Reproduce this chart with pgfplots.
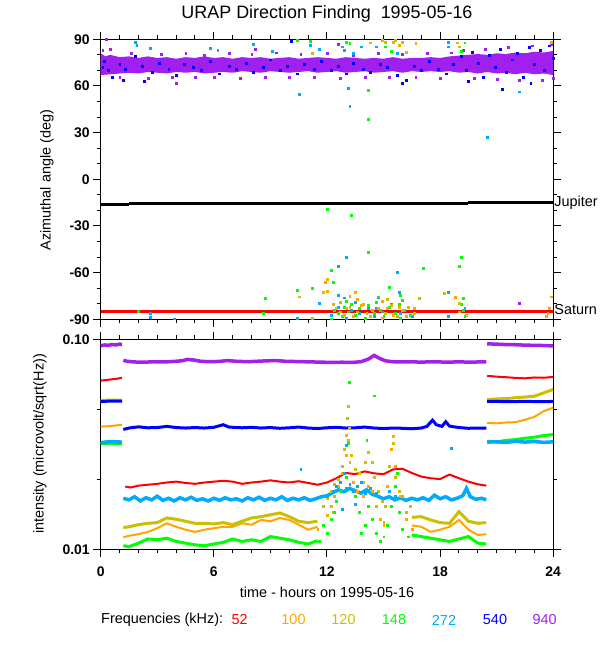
\documentclass[border=0pt]{standalone}
\usepackage{pgfplots}
\pgfplotsset{compat=1.18}
\usepackage{fontspec}
\setmainfont{Liberation Sans}
\definecolor{c52}{RGB}{255,0,0}
\definecolor{c100}{RGB}{255,165,0}
\definecolor{c120}{RGB}{205,190,0}
\definecolor{c148}{RGB}{0,255,0}
\definecolor{c272}{RGB}{0,170,255}
\definecolor{c540}{RGB}{0,0,255}
\definecolor{c940}{RGB}{160,32,240}
\newcommand{\lbl}{\fontsize{14.5}{17}\selectfont}
\pgfplotsset{
  urap/.style={
    scale only axis, width=452.5bp, anchor=south west,
    xmin=0, xmax=24, xtick={0,6,12,18,24}, minor xtick={1,2,3,4,5,7,8,9,10,11,13,14,15,16,17,19,20,21,22,23},
    tick align=outside, major tick length=7.5bp, minor tick length=4bp,
    axis line style={line width=1bp}, every tick/.style={black, line width=1bp},
    ticklabel style={font=\bfseries\fontsize{14}{16}\selectfont},
    clip=true,
  },
  pts/.style={only marks, mark=square*, mark size=0.95bp, mark options={draw=#1, fill=#1, line width=0.1bp}},
}
\begin{document}
\begin{tikzpicture}
\useasboundingbox (0,0) rectangle (600bp,650bp);
% ---------------- top panel ----------------
\begin{axis}[urap, at={(100.7bp,330.7bp)}, height=280bp,
  ymin=-90, ymax=90, ytick={-90,-60,-30,0,30,60,90},
  yticklabels={-90,-60,-30,0,30,60,90},
  minor ytick={-80,-70,-50,-40,-20,-10,10,20,40,50,70,80},
  xticklabels={}]
% Jupiter and Saturn
\addplot[black, line width=3bp] coordinates {(0,-16) (1.5,-16)};
\addplot[black, line width=3bp] coordinates {(1.5,-15.4) (19.5,-15.4)};
\addplot[black, line width=3bp] coordinates {(19.5,-14.8) (24,-14.8)};
\addplot[c52, line width=3.5bp] coordinates {(0,-85) (24,-85)};
% 940 kHz dense band
\addplot[draw=none, fill=c940] coordinates {
(0,81) (0.25,79) (0.5,80) (1,78.5) (1.5,79) (2,78) (2.5,79) (3,78) (3.5,78.5) (4,77.5) (4.5,78.5) (5,78) (5.5,79) (6,78) (6.5,78.5) (7,77.5) (7.5,78.5) (8,78) (8.5,78.5) (9,77.5) (9.5,78) (10,78.5) (10.5,77.5) (11,78) (11.5,78.5) (12,78) (12.5,77.5) (13,78.5) (13.5,78) (14,77.5) (14.5,78) (15,77.5) (15.5,78.5) (16,77.5) (16.5,78) (17,78) (17.5,78.5) (18,78) (18.5,79) (19,79.5) (19.5,80) (20,80.5) (20.5,80) (21,81) (21.5,80.5) (22,81.5) (22.5,81) (23,82) (23.5,81.5) (24,82.5)
(24,67) (23.5,68) (23,67.5) (22.5,68.5) (22,67.5) (21.5,68.5) (21,68) (20.5,69) (20,68) (19.5,69) (19,68.5) (18.5,69.5) (18,69) (17.5,69.5) (17,69) (16.5,69.5) (16,68.5) (15.5,69.5) (15,69) (14.5,68.5) (14,69.5) (13.5,69) (13,68.5) (12.5,69.5) (12,69) (11.5,68.5) (11,69.5) (10.5,69) (10,68.5) (9.5,69) (9,69.5) (8.5,68.5) (8,69) (7.5,69.5) (7,68.5) (6.5,69) (6,68.5) (5.5,68) (5,69) (4.5,68.5) (4,69) (3.5,68) (3,68.5) (2.5,69) (2,68) (1.5,68.5) (1,68) (0.5,67.5) (0,67)} -- cycle;
% 540 kHz points
\addplot[pts=c540] coordinates {
(0.1,72) (0.2,76) (0.4,70) (0.6,66) (1.0,74) (1.3,71) (1.8,79) (2.2,73) (2.7,69) (3.1,75) (3.6,71) (4.0,67) (4.4,74) (4.9,72) (5.3,70) (5.8,76) (6.3,68) (6.8,73) (7.2,71) (7.7,75) (8.1,69) (8.6,72) (9.0,77) (9.5,70) (9.9,73) (10.4,68) (10.8,74) (11.3,71) (11.7,76) (12.2,70) (12.6,73) (13.0,68) (13.4,75) (13.9,71) (14.3,69) (14.8,74) (15.2,72) (15.7,67) (16.0,62) (16.2,64) (16.6,73) (17.0,70) (17.4,76) (17.9,71) (18.3,68) (18.7,74) (19.1,79) (19.4,70) (19.7,82) (20.0,75) (20.3,66) (20.6,80) (20.9,72) (21.2,84) (21.3,58) (21.5,69) (21.8,77) (22.1,81) (22.4,66) (22.7,85) (22.8,62) (23.0,74) (23.3,83) (23.5,70) (23.8,86) (24.0,78) (19.5,63) (1.2,64) (2.3,63) (10.1,89)};
% 940 kHz outliers
\addplot[pts=c940] coordinates {
(0.1,83) (0.5,84) (1.0,66) (1.6,81) (2.5,65) (3.2,80.5) (3.8,66) (4.5,81) (5.0,65.5) (5.5,80) (6.0,66) (6.8,81) (7.4,65) (8.0,80.5) (8.7,66) (9.3,81.5) (10.0,65.5) (10.6,80.5) (11.3,66) (12.0,81) (12.7,65) (13.4,80) (14.0,66) (14.7,81) (15.3,65.5) (16.0,80.5) (16.7,66) (17.3,81) (18.0,65) (18.6,81.5) (19.2,83) (19.8,65) (20.4,84) (21.0,64.5) (21.6,85) (22.2,64) (22.9,86) (23.4,64) (23.9,87) (0.3,90) (4.0,62) (8.2,84) (12.6,87) (24,65) (22.2,-79.3)};
% 272 kHz
\addplot[pts=c272] coordinates {
(1.8,88.5) (1.9,86.4) (2.6,84.2) (5.8,84.6) (6.2,83) (8.1,86.8) (9.1,82.7) (10.5,54.6) (11.1,86.4) (11.6,83.6) (12.8,85.3) (12.9,83) (13.1,58.5) (13.2,47) (13.4,81) (13.8,85.3) (14.6,85.3) (15.7,81) (18.4,88.5) (18.4,85.3) (20.5,27.4) (22.2,56.4)
(13.0,-49.7) (12.6,-55.7) (15.7,-59.8) (15.8,-72.2) (18.4,-72.2) (2.6,-86.1) (2.6,-88.3) (3.9,-89.5) (10.4,-89.4) (11.6,-79.7) (12.6,-74.4) (14.6,-82.9) (18.4,-87.9) (19.3,-82.9)
(12.2,-87) (12.6,-82) (13.0,-89) (13.3,-84) (13.7,-86) (14.2,-83) (14.5,-88) (14.9,-85) (15.4,-80) (15.9,-86) (16.5,-88) (12.9,-76) (13.5,-79) (14.7,-76)};
% 148 kHz
\addplot[pts=c148] coordinates {
(10.4,89.6) (11.1,89) (13.0,88.5) (13.2,87.4) (14.2,57.4) (14.2,38.6) (15.1,85.3) (15.4,82.7) (19.1,82.7) (19.3,87.9)
(12.0,-19.3) (13.3,-22.9) (14.2,-46.5) (19.1,-49.7) (19.0,-55.7) (17.1,-57.2) (12.2,-58.3) (12.3,-65.8) (11.2,-70) (10.4,-71.1) (8.7,-76.5) (15.3,-69) (15.9,-74.4) (19.2,-76.1) (14.7,-75.4) (2,-84.6) (8.6,-85.7)
(12.4,-84) (12.6,-86) (12.8,-88) (12.9,-82) (13.1,-85) (13.3,-80) (13.5,-87) (13.7,-83) (14.0,-89) (14.2,-81) (14.5,-86) (14.8,-84) (15.0,-88) (15.3,-82) (15.6,-86) (15.9,-89) (16.1,-84) (16.4,-87) (13.0,-78) (14.6,-79) (15.8,-80) (19.2,-84) (19.3,-88) (12.2,-89.5) (16.0,-77.5) (19.1,-80)};
% 120 kHz
\addplot[pts=c120] coordinates {
(15.8,86.4) (16.2,82) (18.9,87.9) (19.0,85.3) (11.2,81) (15.1,88.5) (15.6,89.3)
(10.5,-75.4) (16.9,-76.5) (18.2,-73.3) (19.0,-79.7) (11.2,-89.4) (11.8,-72.2)
(12.5,-83) (12.9,-87) (13.2,-82) (13.6,-85) (13.9,-80) (14.3,-88) (14.7,-83) (15.1,-86) (15.4,-81) (15.7,-88) (16.0,-84) (16.3,-82) (16.6,-86) (12.7,-79) (15.2,-77) (19.0,-85) (19.4,-87)};
% 100 kHz
\addplot[pts=c100] coordinates {
(14.3,87.9) (14.9,89.6) (15.5,88.5) (16,88.5) (16.7,87.4) (23.9,88.5)
(12,-64.1) (11.9,-66.2) (13.5,-72.2) (18.8,-75.9) (23.9,-75.4) (23.8,-82.9) (23.7,-86.1) (23.6,-87.9)
(12.3,-80) (12.7,-85) (13.0,-83) (13.4,-88) (13.8,-81) (14.1,-86) (14.4,-84) (14.9,-89) (15.2,-83) (15.5,-87) (15.8,-82) (16.2,-88) (16.6,-83) (13.6,-77) (14.9,-78) (12.0,-72) (13.2,-75)};
\end{axis}
\node[anchor=west, font=\lbl, inner sep=1bp] at (553.2bp,447.5bp) {Jupiter};
\node[anchor=west, font=\lbl, inner sep=1bp] at (553.2bp,340bp) {Saturn};
% ---------------- bottom panel ----------------
\begin{axis}[urap, at={(100.7bp,100.7bp)}, height=210bp,
  ymode=log, ymin=0.01, ymax=0.1, ytick={0.01,0.1}, yticklabels={0.01,0.10},
  minor ytick={0.02154,0.04642}, xticklabels={0,6,12,18,24},
  xticklabel style={yshift=-6bp}]
% 52 kHz
\addplot[c52, line width=2bp] coordinates {(0,0.0636) (0.3,0.0640) (0.6,0.0645) (0.9,0.0650) (1.13,0.0656)};
\addplot[c52, line width=2bp] coordinates {(1.3,0.0199) (1.6,0.0197) (2,0.0201) (2.5,0.0203) (3,0.0205) (3.5,0.0208) (4,0.0210) (4.5,0.0207) (5,0.0205) (5.5,0.0208) (6,0.0210) (6.5,0.0212) (7,0.0210) (7.5,0.0205) (8,0.0208) (8.5,0.0210) (9,0.0213) (9.5,0.0210) (10,0.0208) (10.5,0.0211) (11,0.0207) (11.5,0.0203) (12,0.0208) (12.5,0.0218) (13,0.0231) (13.5,0.0228) (14,0.0235) (14.5,0.0230) (15,0.0228) (15.5,0.0240) (16,0.0242) (16.5,0.0231) (17,0.0222) (17.5,0.0218) (18,0.0216) (18.5,0.0227) (19,0.0218) (19.5,0.0210) (20,0.0204) (20.45,0.0201)};
\addplot[c52, line width=2bp] coordinates {(20.5,0.0670) (21,0.0664) (21.5,0.0660) (22,0.0655) (22.5,0.0652) (23,0.0658) (23.5,0.0656) (24,0.0662)};
% 100 kHz
\addplot[c100, line width=2bp] coordinates {(0,0.0384) (0.5,0.0386) (1.13,0.0392)};
\addplot[c100, line width=2bp] coordinates {(1.2,0.0114) (1.5,0.0116) (2,0.0118) (2.5,0.0121) (3,0.0126) (3.5,0.0133) (4,0.0128) (4.5,0.0124) (5,0.0121) (5.5,0.0124) (6,0.0126) (6.5,0.0128) (7,0.0128) (7.5,0.0133) (8,0.0131) (8.5,0.0138) (9,0.0136) (9.5,0.0141) (10,0.0138) (10.5,0.0131) (11,0.0124) (11.5,0.0128)};
\addplot[c100, line width=2bp] coordinates {(16.5,0.0130) (17,0.0128) (17.5,0.0121) (18,0.0124) (18.5,0.0128) (19,0.0138) (19.5,0.0124) (20,0.0117) (20.45,0.0118)};
\addplot[c100, line width=2bp] coordinates {(20.5,0.0400) (21,0.0398) (21.5,0.0402) (22,0.0403) (22.5,0.0414) (23,0.0427) (23.5,0.0455) (24,0.0472)};
\addplot[pts=c100] coordinates {(11.5,0.0125) (11.8,0.0130) (12.0,0.0145) (12.2,0.0160) (12.4,0.0180) (12.6,0.0200) (12.8,0.0230) (13.0,0.0280) (13.1,0.0330) (13.2,0.0260) (13.4,0.0210) (13.6,0.0190) (13.9,0.0180) (14.2,0.0200) (14.4,0.0190) (14.6,0.0160) (14.8,0.0140) (15.0,0.0130) (15.2,0.0200) (15.4,0.0300) (15.5,0.0345) (15.6,0.0250) (15.9,0.0180) (16.2,0.0140) (16.5,0.0125)};
% 120 kHz
\addplot[c120, line width=3bp] coordinates {(0,0.0512) (0.5,0.0514) (1.13,0.0512)};
\addplot[c120, line width=3bp] coordinates {(1.2,0.0127) (1.5,0.0128) (2,0.0131) (2.5,0.0133) (3,0.0134) (3.5,0.0141) (4,0.0139) (4.5,0.0136) (5,0.0133) (5.5,0.0133) (6,0.0132) (6.5,0.0134) (7,0.0131) (7.5,0.0136) (8,0.0141) (8.5,0.0143) (9,0.0146) (9.5,0.0149) (10,0.0143) (10.5,0.0136) (11,0.0134) (11.5,0.0136)};
\addplot[c120, line width=3bp] coordinates {(16.5,0.0142) (17,0.0143) (17.5,0.0138) (18,0.0134) (18.5,0.0133) (19,0.0151) (19.5,0.0136) (20,0.0133) (20.45,0.0134)};
\addplot[c120, line width=3bp] coordinates {(20.5,0.0517) (21,0.0520) (21.5,0.0522) (22,0.0527) (22.5,0.0531) (23,0.0536) (23.5,0.0556) (24,0.0577)};
\addplot[pts=c120] coordinates {(11.8,0.0160) (12.0,0.0175) (12.2,0.0190) (12.4,0.0205) (12.6,0.0215) (12.8,0.0250) (12.9,0.0300) (13.0,0.0350) (13.05,0.0420) (13.1,0.0480) (13.15,0.0380) (13.3,0.0280) (13.5,0.0240) (13.7,0.0230) (13.9,0.0210) (14.0,0.0260) (14.2,0.0290) (14.4,0.0260) (14.5,0.0220) (14.7,0.0190) (14.9,0.0170) (15.1,0.0160) (15.3,0.0250) (15.5,0.0320) (15.6,0.0220) (15.8,0.0190) (16.0,0.0180) (16.2,0.0150) (16.4,0.0160) (12.3,0.0150) (14.8,0.0140) (15.0,0.0135)};
% 148 kHz
\addplot[c148, line width=3bp] coordinates {(0,0.0318) (0.5,0.0320) (1.13,0.0318)};
\addplot[c148, line width=3bp] coordinates {(1.2,0.0104) (1.5,0.0103) (2,0.0107) (2.5,0.0112) (3,0.0111) (3.5,0.0113) (4,0.0109) (4.5,0.0107) (5,0.0105) (5.5,0.0104) (6,0.0106) (6.5,0.0108) (7,0.0112) (7.5,0.0109) (8,0.0111) (8.5,0.0109) (9,0.0115) (9.5,0.0113) (10,0.0111) (10.5,0.0108) (11,0.0106) (11.5,0.0110)};
\addplot[c148, line width=3bp] coordinates {(16.5,0.0117) (17,0.0115) (17.5,0.0113) (18,0.0111) (18.5,0.0109) (19,0.0112) (19.5,0.0115) (20,0.0107) (20.45,0.0106)};
\addplot[c148, line width=3bp] coordinates {(20.5,0.0327) (21,0.0325) (21.5,0.0330) (22,0.0333) (22.5,0.0338) (23,0.0342) (23.5,0.0348) (24,0.0352)};
\addplot[pts=c148] coordinates {(11.6,0.0110) (11.8,0.0130) (12.0,0.0120) (12.2,0.0140) (12.4,0.0150) (12.5,0.0170) (12.7,0.0190) (13.0,0.0220) (13.1,0.0320) (13.15,0.0626) (14.5,0.0540) (13.5,0.0180) (13.7,0.0150) (14.0,0.0130) (14.2,0.0160) (14.4,0.0140) (14.6,0.0120) (14.8,0.0110) (15.0,0.0115) (15.2,0.0130) (15.4,0.0160) (15.6,0.0200) (15.8,0.0150) (16.0,0.0125) (16.3,0.0115) (14.1,0.0330) (13.8,0.0120) (15.7,0.0230)};
% 272 kHz
\addplot[c272, line width=3.5bp] coordinates {(0,0.0322) (0.5,0.0326) (1.13,0.0324)};
\addplot[c272, line width=3.5bp] coordinates {(1.2,0.0175) (1.5,0.0172) (1.8,0.0178) (2.1,0.0170) (2.4,0.0176) (2.7,0.0172) (3.0,0.0179) (3.3,0.0171) (3.6,0.0175) (3.9,0.0170) (4.2,0.0176) (4.5,0.0172) (4.8,0.0177) (5.1,0.0171) (5.4,0.0174) (5.7,0.0170) (6.0,0.0175) (6.3,0.0171) (6.6,0.0176) (6.9,0.0172) (7.2,0.0174) (7.5,0.0170) (7.8,0.0176) (8.1,0.0172) (8.4,0.0177) (8.7,0.0171) (9.0,0.0175) (9.3,0.0172) (9.6,0.0178) (9.9,0.0171) (10.2,0.0175) (10.5,0.0172) (10.8,0.0176) (11.1,0.0171) (11.4,0.0174) (11.7,0.0178) (12.0,0.0180) (12.3,0.0186) (12.6,0.0192) (12.9,0.0188) (13.2,0.0195) (13.5,0.0190) (13.8,0.0185) (14.1,0.0192) (14.4,0.0183) (14.7,0.0179) (15.0,0.0174) (15.3,0.0178) (15.6,0.0172) (15.9,0.0176) (16.2,0.0171) (16.5,0.0175) (16.8,0.0172) (17.1,0.0176) (17.4,0.0171) (17.7,0.0181) (18.0,0.0174) (18.3,0.0178) (18.6,0.0172) (18.9,0.0175) (19.2,0.0180) (19.4,0.0195) (19.6,0.0178) (19.9,0.0173) (20.2,0.0175) (20.45,0.0172)};
\addplot[c272, line width=3.5bp] coordinates {(20.5,0.0324) (21,0.0325) (21.5,0.0323) (22,0.0327) (22.5,0.0324) (23,0.0326) (23.5,0.0323) (24,0.0325)};
\addplot[pts=c272] coordinates {(12.0,0.0180) (12.3,0.0190) (12.5,0.0200) (12.7,0.0210) (12.9,0.0230) (13.0,0.0195) (13.2,0.0205) (13.4,0.0190) (13.6,0.0200) (13.8,0.0210) (14.0,0.0185) (14.3,0.0195) (14.6,0.0185) (15.0,0.0175) (15.3,0.0190) (15.6,0.0180) (12.8,0.0155) (13.5,0.0165) (18.6,0.0304) (13.0,0.0315) (10.6,0.0240)};
% 540 kHz
\addplot[c540, line width=3bp] coordinates {(0,0.0505) (0.5,0.0508) (1.13,0.0507)};
\addplot[c540, line width=3bp] coordinates {(1.2,0.0372) (1.5,0.0378) (2,0.0383) (2.5,0.0379) (3,0.0380) (3.5,0.0385) (4,0.0380) (4.5,0.0378) (5,0.0380) (5.5,0.0378) (6,0.0381) (6.5,0.0392) (6.8,0.0382) (7.5,0.0379) (8,0.0381) (8.5,0.0378) (9,0.0380) (9.5,0.0377) (10,0.0379) (10.5,0.0382) (11,0.0378) (11.5,0.0376) (12,0.0379) (12.5,0.0381) (13,0.0378) (13.5,0.0379) (14,0.0382) (14.5,0.0378) (15,0.0376) (15.5,0.0378) (16,0.0377) (16.5,0.0375) (17,0.0378) (17.3,0.0385) (17.6,0.0412) (17.8,0.0392) (18.1,0.0385) (18.3,0.0405) (18.5,0.0386) (19,0.0380) (19.5,0.0377) (20,0.0378) (20.45,0.0378)};
\addplot[c540, line width=3bp] coordinates {(20.5,0.0507) (21.5,0.0505) (22.5,0.0506) (23.5,0.0505) (24,0.0506)};
% 940 kHz
\addplot[c940, line width=3.5bp] coordinates {(0,0.0932) (0.2,0.0940) (0.4,0.0936) (0.6,0.0944) (0.8,0.0940) (1.0,0.0948) (1.13,0.0944)};
\addplot[c940, line width=3.5bp] coordinates {(1.2,0.0795) (1.4,0.0786) (1.8,0.0780) (2.3,0.0778) (2.8,0.0782) (3.3,0.0780) (3.8,0.0784) (4.3,0.0790) (4.6,0.0802) (4.9,0.0798) (5.3,0.0786) (5.8,0.0782) (6.3,0.0785) (6.7,0.0792) (7.2,0.0786) (7.8,0.0782) (8.3,0.0786) (8.8,0.0790) (9.3,0.0792) (9.8,0.0786) (10.3,0.0784) (10.8,0.0782) (11.3,0.0780) (11.8,0.0778) (12.3,0.0776) (12.8,0.0778) (13.3,0.0776) (13.8,0.0782) (14.2,0.0805) (14.5,0.0838) (14.8,0.0810) (15.1,0.0790) (15.5,0.0782) (16.0,0.0780) (16.5,0.0782) (17.0,0.0778) (17.5,0.0782) (18.0,0.0780) (18.5,0.0778) (19.0,0.0782) (19.5,0.0778) (20.0,0.0780) (20.45,0.0782)};
\addplot[c940, line width=3.5bp] coordinates {(20.5,0.0952) (21,0.0948) (21.5,0.0944) (22,0.0942) (22.5,0.0938) (23,0.0936) (23.5,0.0934) (24,0.0930)};
\end{axis}
% ---------------- texts ----------------
\node[font=\fontsize{18}{21}\selectfont] at (327bp,636bp) {URAP Direction Finding\ \ 1995-05-16};
\node[font=\lbl, rotate=90] at (47bp,470bp) {Azimuthal angle (deg)};
\node[font=\lbl, rotate=90] at (40bp,206bp) {intensity (microvolt/sqrt(Hz))};
\node[font=\lbl] at (327bp,57.3bp) {time - hours on 1995-05-16};
\node[font=\lbl, anchor=west, inner sep=0pt] at (101bp,30bp) {Frequencies (kHz):};
\node[font=\lbl, text=c52] at (239.6bp,30bp) {52};
\node[font=\lbl, text=c100] at (293.5bp,30bp) {100};
\node[font=\lbl, text=c120] at (343.5bp,30bp) {120};
\node[font=\lbl, text=c148] at (394bp,30bp) {148};
\node[font=\lbl, text=c272] at (444bp,30bp) {272};
\node[font=\lbl, text=c540] at (495bp,30bp) {540};
\node[font=\lbl, text=c940] at (544.6bp,30bp) {940};
\end{tikzpicture}
\end{document}
